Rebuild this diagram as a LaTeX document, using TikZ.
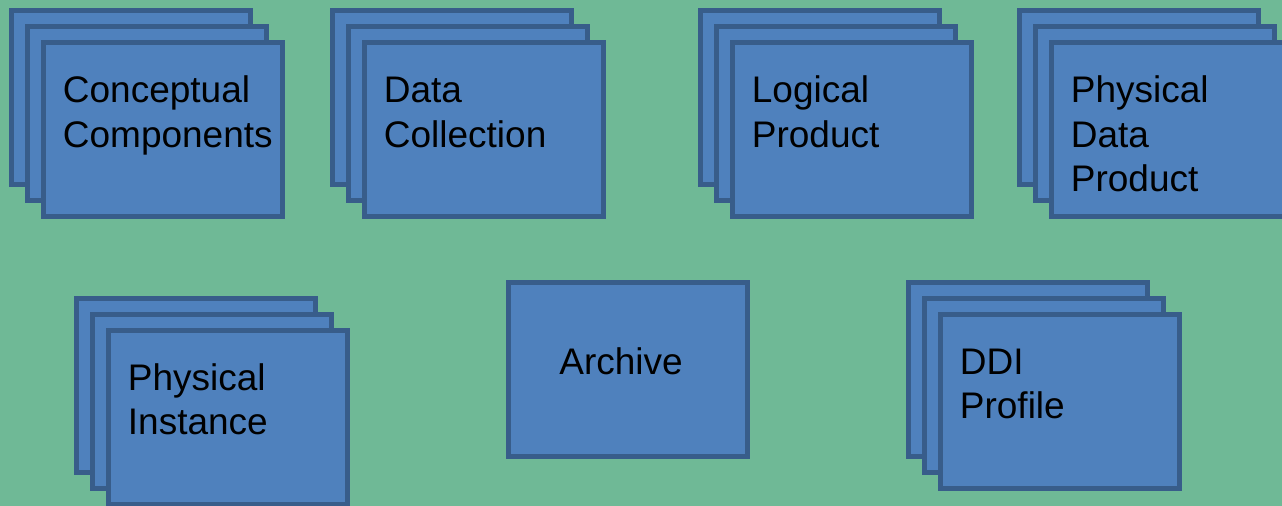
\documentclass[tikz,border=0pt]{standalone}
\usepackage{fontspec}
\setmainfont{Liberation Sans}
\definecolor{bggreen}{HTML}{6FB996}
\definecolor{cardfill}{HTML}{4F81BD}
\definecolor{cardline}{HTML}{385D8A}
\tikzset{
  card/.style={draw=cardline, fill=cardfill, line width=2.5pt, rectangle,
    minimum width=119.5pt, minimum height=87pt, inner sep=0pt, anchor=north west},
  cardtext/.style={anchor=base west, align=left, inner sep=0pt,
    font=\fontsize{18.5pt}{22.25pt}\selectfont}
}
% three overlapping cards; #1 = name prefix, (#2,#3) = top-left of the front card
\newcommand{\cardstack}[3]{%
  \node[card] (#1-a) at (#2-32,#3-32) {};
  \node[card] (#1-b) at (#2-16,#3-16) {};
  \node[card] (#1-c) at (#2,#3) {};
}
\begin{document}
\begin{tikzpicture}[x=0.5pt, y=-0.5pt]
  \fill[bggreen] (0,0) rectangle (1282,506);
  \useasboundingbox (0,0) rectangle (1282,506);

  % labels are anchored at the baseline of their last line
  \cardstack{cc}{41}{40}
  \node[cardtext] (cc-t) at ([shift={(21.5,107.5)}]cc-c.north west) {Conceptual\\Components};

  \cardstack{dc}{362}{40}
  \node[cardtext] (dc-t) at ([shift={(21.5,107.5)}]dc-c.north west) {Data\\Collection};

  \cardstack{lp}{730}{40}
  \node[cardtext] (lp-t) at ([shift={(21.5,107.5)}]lp-c.north west) {Logical\\Product};

  \cardstack{pdp}{1049}{40}
  \node[cardtext] (pdp-t) at ([shift={(21.5,152)}]pdp-c.north west) {Physical\\Data\\Product};

  \cardstack{pi}{106}{328}
  \node[cardtext] (pi-t) at ([shift={(21.5,107)}]pi-c.north west) {Physical\\Instance};

  \node[card] (ar) at (506,280) {};
  \node[cardtext] (ar-t) at ([shift={(53,95)}]ar.north west) {Archive};

  \cardstack{ddi}{938}{312}
  \node[cardtext] (ddi-t) at ([shift={(21.5,107)}]ddi-c.north west) {DDI\\Profile};
\end{tikzpicture}
\end{document}
